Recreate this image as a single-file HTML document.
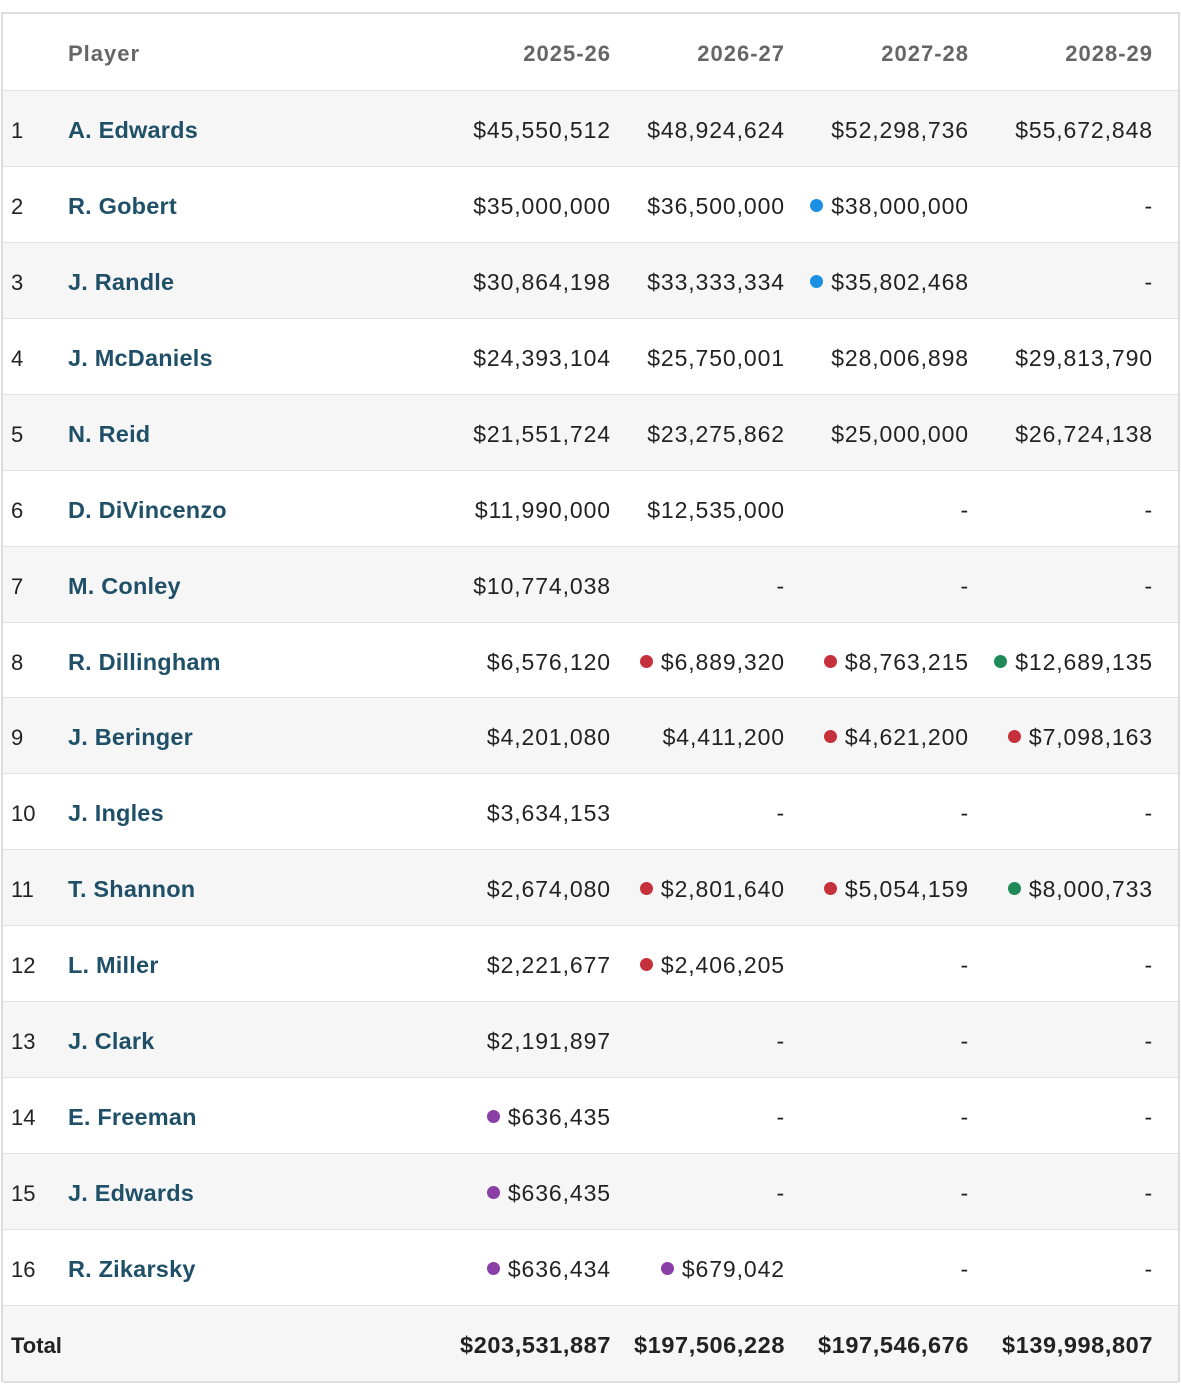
<!DOCTYPE html>
<html><head><meta charset="utf-8"><style>
html,body{margin:0;padding:0;background:#fff;}
body{width:1181px;height:1394px;position:relative;overflow:hidden;font-family:"Liberation Sans",sans-serif;}
.frame{position:absolute;left:1px;top:12px;width:1179px;height:1370px;border:2px solid #ddd;border-bottom:none;box-sizing:border-box;}
.r{position:absolute;left:3px;width:1175px;height:76px;border-top:1px solid #e2e2e2;box-sizing:border-box;}
.g{background:#f6f6f6;}
.r div{position:absolute;top:2px;height:75px;line-height:75px;white-space:nowrap;}
.n{left:8px;font-size:22px;color:#222;}
.p{left:65px;font-size:23.5px;font-weight:bold;color:#1f5068;letter-spacing:0.2px;}
.c{font-size:23px;color:#222;letter-spacing:0.9px;text-align:right;}
.c1{right:567px}.c2{right:393px}.c3{right:209px}.c4{right:25px}
.h div{color:#666;font-weight:bold;font-size:22px;letter-spacing:1px;}
.t div{font-weight:bold;color:#222;}
.t .c{font-size:23.5px;letter-spacing:0.6px;}
.d{display:inline-block;width:13px;height:13px;border-radius:50%;margin-right:8px;vertical-align:2px;}
.b{background:#1b8fe3}.rd{background:#c6303b}.gr{background:#1f8a58}.pu{background:#8a3fa6}
</style></head><body>
<div class="frame"></div>
<div class="r h" style="top:14px;border-top:none"><div class="p" style="color:#666">Player</div><div class="c c1">2025-26</div><div class="c c2">2026-27</div><div class="c c3">2027-28</div><div class="c c4">2028-29</div></div>
<div class="r g" style="top:90px"><div class="n">1</div><div class="p">A. Edwards</div><div class="c c1">$45,550,512</div><div class="c c2">$48,924,624</div><div class="c c3">$52,298,736</div><div class="c c4">$55,672,848</div></div>
<div class="r" style="top:166px"><div class="n">2</div><div class="p">R. Gobert</div><div class="c c1">$35,000,000</div><div class="c c2">$36,500,000</div><div class="c c3"><span class="d b"></span>$38,000,000</div><div class="c c4">-</div></div>
<div class="r g" style="top:242px"><div class="n">3</div><div class="p">J. Randle</div><div class="c c1">$30,864,198</div><div class="c c2">$33,333,334</div><div class="c c3"><span class="d b"></span>$35,802,468</div><div class="c c4">-</div></div>
<div class="r" style="top:318px"><div class="n">4</div><div class="p">J. McDaniels</div><div class="c c1">$24,393,104</div><div class="c c2">$25,750,001</div><div class="c c3">$28,006,898</div><div class="c c4">$29,813,790</div></div>
<div class="r g" style="top:394px"><div class="n">5</div><div class="p">N. Reid</div><div class="c c1">$21,551,724</div><div class="c c2">$23,275,862</div><div class="c c3">$25,000,000</div><div class="c c4">$26,724,138</div></div>
<div class="r" style="top:470px"><div class="n">6</div><div class="p">D. DiVincenzo</div><div class="c c1">$11,990,000</div><div class="c c2">$12,535,000</div><div class="c c3">-</div><div class="c c4">-</div></div>
<div class="r g" style="top:546px"><div class="n">7</div><div class="p">M. Conley</div><div class="c c1">$10,774,038</div><div class="c c2">-</div><div class="c c3">-</div><div class="c c4">-</div></div>
<div class="r" style="top:622px"><div class="n">8</div><div class="p">R. Dillingham</div><div class="c c1">$6,576,120</div><div class="c c2"><span class="d rd"></span>$6,889,320</div><div class="c c3"><span class="d rd"></span>$8,763,215</div><div class="c c4"><span class="d gr"></span>$12,689,135</div></div>
<div class="r g" style="top:697px"><div class="n">9</div><div class="p">J. Beringer</div><div class="c c1">$4,201,080</div><div class="c c2">$4,411,200</div><div class="c c3"><span class="d rd"></span>$4,621,200</div><div class="c c4"><span class="d rd"></span>$7,098,163</div></div>
<div class="r" style="top:773px"><div class="n">10</div><div class="p">J. Ingles</div><div class="c c1">$3,634,153</div><div class="c c2">-</div><div class="c c3">-</div><div class="c c4">-</div></div>
<div class="r g" style="top:849px"><div class="n">11</div><div class="p">T. Shannon</div><div class="c c1">$2,674,080</div><div class="c c2"><span class="d rd"></span>$2,801,640</div><div class="c c3"><span class="d rd"></span>$5,054,159</div><div class="c c4"><span class="d gr"></span>$8,000,733</div></div>
<div class="r" style="top:925px"><div class="n">12</div><div class="p">L. Miller</div><div class="c c1">$2,221,677</div><div class="c c2"><span class="d rd"></span>$2,406,205</div><div class="c c3">-</div><div class="c c4">-</div></div>
<div class="r g" style="top:1001px"><div class="n">13</div><div class="p">J. Clark</div><div class="c c1">$2,191,897</div><div class="c c2">-</div><div class="c c3">-</div><div class="c c4">-</div></div>
<div class="r" style="top:1077px"><div class="n">14</div><div class="p">E. Freeman</div><div class="c c1"><span class="d pu"></span>$636,435</div><div class="c c2">-</div><div class="c c3">-</div><div class="c c4">-</div></div>
<div class="r g" style="top:1153px"><div class="n">15</div><div class="p">J. Edwards</div><div class="c c1"><span class="d pu"></span>$636,435</div><div class="c c2">-</div><div class="c c3">-</div><div class="c c4">-</div></div>
<div class="r" style="top:1229px"><div class="n">16</div><div class="p">R. Zikarsky</div><div class="c c1"><span class="d pu"></span>$636,434</div><div class="c c2"><span class="d pu"></span>$679,042</div><div class="c c3">-</div><div class="c c4">-</div></div>
<div class="r g t" style="top:1305px;border-bottom:2px solid #ddd;height:78px"><div class="n" style="font-size:22px">Total</div><div class="c c1">$203,531,887</div><div class="c c2">$197,506,228</div><div class="c c3">$197,546,676</div><div class="c c4">$139,998,807</div></div>
</body></html>
